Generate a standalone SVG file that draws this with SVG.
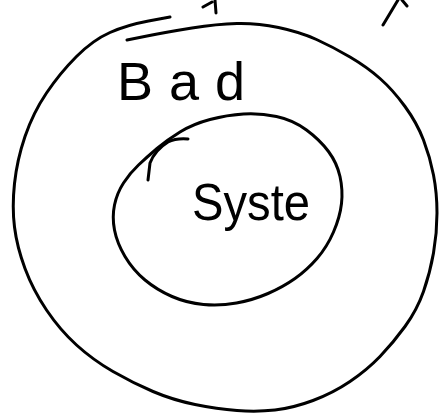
<svg xmlns="http://www.w3.org/2000/svg" width="441" height="413" viewBox="0 0 441 413">
<style>
.pen{fill:none;stroke:#000;stroke-width:3;stroke-linecap:round;stroke-linejoin:round}
.hand{font-family:"Liberation Sans","DejaVu Sans",sans-serif;fill:#000}
</style>
<rect width="441" height="413" fill="#fff"/>
<g id="boundary">
<path class="pen" d="M127,40 L147,36 Q167,32 192,28 Q217,24 237,23.5 Q257,23 278.5,27.5 Q300,32 316.5,39.5 Q333,47 350,57 Q367,67 380,78.5 Q393,90 405,106.5 Q417,123 423.5,140 Q430,157 433.5,175 Q437,193 437,213 Q437,233 433.5,253 Q430,273 423.5,291.5 Q417,310 405,326.5 Q393,343 380,356.5 Q367,370 350,381.5 Q333,393 313,400.5 Q293,408 275,410 Q257,412 237,410.5 Q217,409 195,404.5 Q173,400 153,391.5 Q133,383 113,371.5 Q93,360 76.5,345 Q60,330 46.5,310 Q33,290 25,268.5 Q17,247 14.5,227 Q12,207 14.5,183.5 Q17,160 25,136.5 Q33,113 46.5,93 Q60,73 76.5,56.5 Q93,40 110,32.5 Q127,25 148.5,21 L170,17"/>
<text class="hand" x="117" y="100" font-size="54" letter-spacing="16">Bad</text>
</g>
<g id="system">
<path class="pen" d="M210,119.5 Q227,115 243.5,114 Q260,113 276.5,116.5 Q293,120 306.5,130 Q320,140 328.5,151.5 Q337,163 340,176.5 Q343,190 341.5,203.5 Q340,217 333.5,232 Q327,247 317,258.5 Q307,270 295,278.5 Q283,287 268,293.5 Q253,300 236.5,303 Q220,306 203.5,304.5 Q187,303 172,296.5 Q157,290 145,280 Q133,270 125,256.5 Q117,243 114.5,230 Q112,217 114.5,205 Q117,193 123.5,183 Q130,173 138.5,165 Q147,157 157,148.5 Q167,140 180,132 Q193,124 210,119.5 Z"/>
<path class="pen" d="M148,180 L150,163 Q155,150 168,142 Q176,138 188,139"/>
<text class="hand" x="192" y="220" font-size="52" textLength="118" lengthAdjust="spacingAndGlyphs">Syste</text>
</g>
<g id="fragments">
<path class="pen" d="M203,7 L212,2 M215,0 L216,13"/>
<path class="pen" d="M383,25 L398,0 M402,0 L407,6"/>
</g>
<g id="connectors"/>
</svg>
